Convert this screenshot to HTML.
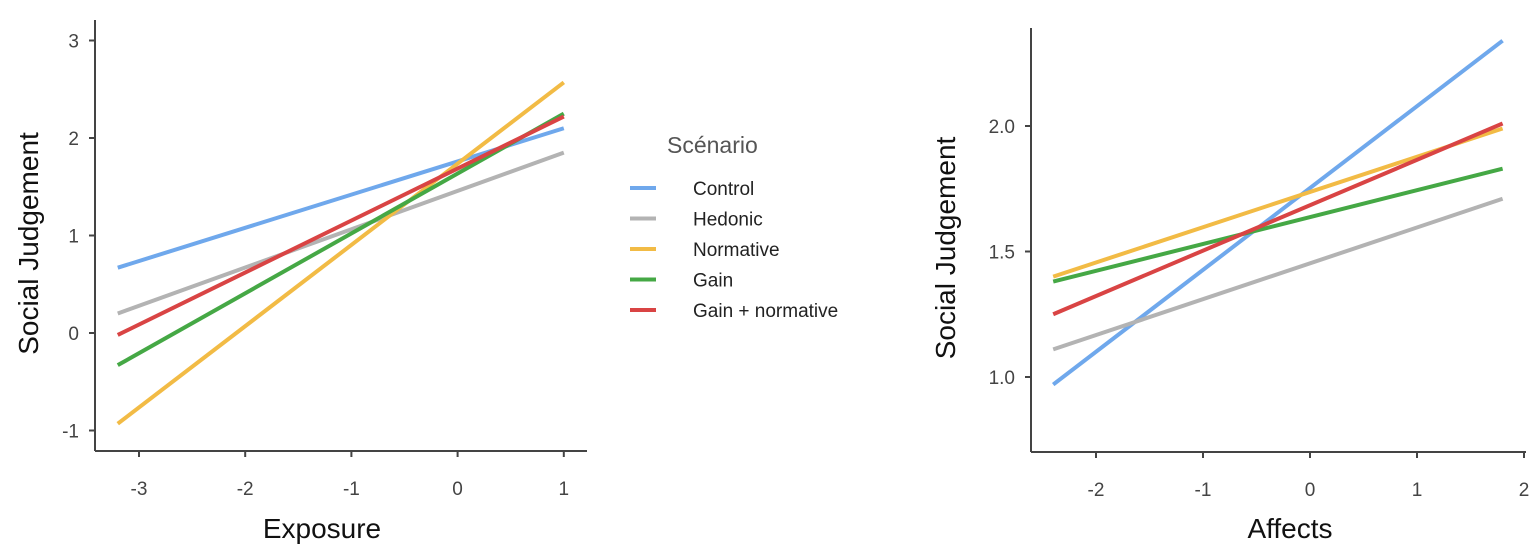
<!DOCTYPE html>
<html><head><meta charset="utf-8"><style>
body{margin:0;background:#fff;}
svg{display:block;font-family:"Liberation Sans",sans-serif;}
</style></head><body>
<svg id="c" width="1535" height="553"></svg>
<script>
const series=["Control","Hedonic","Normative","Gain","Gain + normative"];
const colors=["#6fa8ec","#b3b3b3","#f2bb45","#45a845","#d94444"];
const leftX=[-3.2,1];
const leftStart=[0.67,0.2,-0.93,-0.33,-0.02];
const leftEnd=[2.1,1.85,2.57,2.25,2.22];
const leftXTicks=[-3,-2,-1,0,1];
const leftYTicks=[-1,0,1,2,3];
const rightX=[-2.4,1.8];
const rightStart=[0.97,1.11,1.40,1.38,1.25];
const rightEnd=[2.34,1.71,1.99,1.83,2.01];
const rightXTicks=[-2,-1,0,1,2];
const rightYTicks=[1.0,1.5,2.0];

const svg=document.getElementById('c');
const NS="http://www.w3.org/2000/svg";
function mk(t,a,txt){const e=document.createElementNS(NS,t);for(const k in a)e.setAttribute(k,a[k]);if(txt!==undefined)e.textContent=txt;svg.appendChild(e);return e;}

function panel(p){
  const sx=v=>p.x0px+(v-p.x0)*p.xs, sy=v=>p.y0px-(v-p.y0)*p.ys;
  let e=mk('line',{x1:p.ax,y1:p.top,x2:p.ax,y2:p.ay,stroke:'#444','stroke-width':2});
  
  e=mk('line',{x1:p.ax,y1:p.ay,x2:p.right,y2:p.ay,stroke:'#444','stroke-width':2});
  
  p.xt.forEach(v=>{
    mk('line',{x1:sx(v),y1:p.ay,x2:sx(v),y2:p.ay+6,stroke:'#444','stroke-width':2});
    e=mk('text',{x:sx(v),y:p.ay+44,'text-anchor':'middle','font-size':19,fill:'#444'},String(v));
    
  });
  p.yt.forEach(v=>{
    mk('line',{x1:p.ax-6,y1:sy(v),x2:p.ax,y2:sy(v),stroke:'#444','stroke-width':2});
    e=mk('text',{x:p.ax-16,y:sy(v)+7,'text-anchor':'end','font-size':19,fill:'#444'},p.fmt(v));
    
  });
  series.forEach((s,i)=>{
    e=mk('line',{x1:sx(p.xr[0]),y1:sy(p.st[i]),x2:sx(p.xr[1]),y2:sy(p.en[i]),stroke:colors[i],'stroke-width':4});
    
  });
  e=mk('text',{x:p.xlx,y:538,'text-anchor':'middle','font-size':28,fill:'#111'},p.xl);
  
  e=mk('text',{x:0,y:0,'text-anchor':'middle','font-size':28,fill:'#111',transform:`translate(${p.ylx},${(p.top+p.ay)/2+8}) rotate(-90)`},'Social Judgement');
  
}
panel({id:'left',x0:-3,x0px:139,xs:106.2,y0:0,y0px:333,ys:97.5,ax:95,ay:451,top:20,right:587,
  xt:leftXTicks,yt:leftYTicks,fmt:v=>String(v),xr:leftX,st:leftStart,en:leftEnd,xl:'Exposure',xlx:322,ylx:38});
panel({id:'right',x0:-2,x0px:1096,xs:107,y0:1,y0px:377,ys:251,ax:1031,ay:452,top:28,right:1526,
  xt:rightXTicks,yt:rightYTicks,fmt:v=>v.toFixed(1),xr:rightX,st:rightStart,en:rightEnd,xl:'Affects',xlx:1290,ylx:955});
let e=mk('text',{x:667,y:153,'font-size':23,fill:'#555'},'Scénario');

series.forEach((s,i)=>{
  const y=188+i*30.5;
  let l=mk('line',{x1:630,y1:y,x2:656,y2:y,stroke:colors[i],'stroke-width':4});
  
  let t=mk('text',{x:693,y:y+7,'font-size':19,fill:'#222'},s);
  
});
</script>
</body></html>
